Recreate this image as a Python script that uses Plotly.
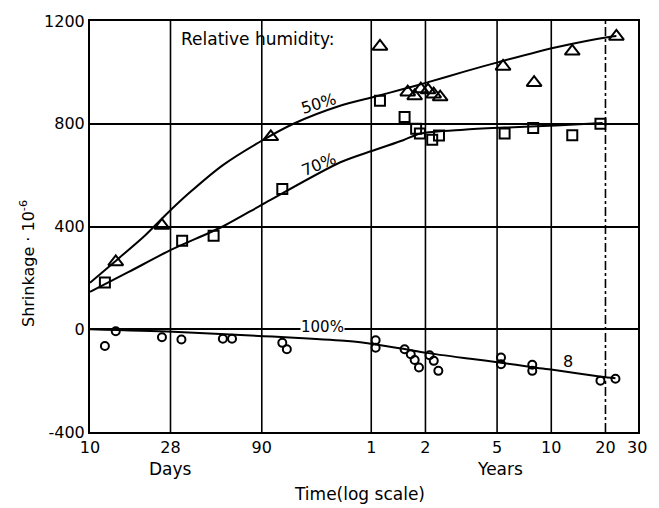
import plotly.graph_objects as go

# Shrinkage (10^-6) of concrete stored at three relative humidities; time in days
rh50_days = [13.9, 25.1, 101, 408, 582, 636, 688, 754, 811, 881, 1970, 2930, 4774, 8395]
rh50_vals = [262, 404, 749, 1101, 923, 908, 935, 931, 915, 904, 1023, 960, 1082, 1140]

rh70_days = [12.1, 32.5, 48.6, 117, 408, 559, 648, 680, 796, 868, 2009, 2896, 4774, 6846]
rh70_vals = [182, 345, 364, 546, 890, 826, 781, 762, 738, 754, 762, 783, 755, 800]

rh100_days = [12.1, 13.9, 25.1, 32.2, 54.7, 61.5, 117, 124, 386, 386, 559, 605, 636, 672,
              769, 812, 861, 1919, 1919, 2862, 2862, 6846, 8295]
rh100_vals = [-65, -8, -31, -40, -37, -37, -53, -78, -43, -72, -78, -97, -120, -149,
              -101, -123, -162, -110, -136, -138, -162, -200, -193]

# Fitted trend curves
fit50_days = [10, 14.1, 20, 26.3, 35.5, 55, 87, 135, 245, 380, 550, 740, 1200, 1860, 3890, 7940, 8395]
fit50_vals = [181, 270, 362, 445, 530, 640, 728, 800, 870, 905, 935, 960, 1003, 1040, 1098, 1140, 1142]

fit70_days = [10, 16.4, 27.6, 55.3, 94, 246, 378, 549, 685, 1191, 2009, 3865, 7040]
fit70_vals = [146, 223, 306, 402, 492, 650, 697, 736, 762, 777, 785, 793, 803]

fit100_days = [10, 28.9, 92, 136, 269, 386, 549, 738, 1297, 1919, 2862, 3722, 6929, 8295]
fit100_vals = [0, -10, -27, -33, -46, -59, -76, -92, -115, -130, -148, -158, -185, -191]

# Axis ticks: days, then years
tick_days = [10, 28, 90, 365, 730, 1825, 3650, 7300, 10950]
tick_text = ["10", "28", "90", "1", "2", "5", "10", "20", "30"]
dashed_grid_day = 7300
y_ticks = [-400, 0, 400, 800, 1200]
y_text = ["-400", "0", "400", "800", "1200"]

FONT = "DejaVu Sans"
INK = "black"

fig = go.Figure()

# Vertical grid lines at the inner time ticks (the 20-year line is dash-dotted)
for d in tick_days[1:-1]:
    fig.add_shape(type="line", xref="x", yref="paper", x0=d, x1=d, y0=0, y1=1,
                  line=dict(color=INK, width=1.6,
                            dash="dashdot" if d == dashed_grid_day else "solid"),
                  layer="below")

for xs, ys in [(fit50_days, fit50_vals), (fit70_days, fit70_vals), (fit100_days, fit100_vals)]:
    fig.add_trace(go.Scatter(
        x=xs, y=ys, mode="lines",
        line=dict(color=INK, width=2, shape="spline", smoothing=0.8),
        hoverinfo="skip", showlegend=False))

fig.add_trace(go.Scatter(
    x=rh50_days, y=rh50_vals, mode="markers", name="50%",
    marker=dict(symbol="triangle-up-open", size=13, color=INK, line=dict(width=2, color=INK)),
    showlegend=False))
fig.add_trace(go.Scatter(
    x=rh70_days, y=rh70_vals, mode="markers", name="70%",
    marker=dict(symbol="square-open", size=10, color=INK, line=dict(width=2, color=INK)),
    showlegend=False))
fig.add_trace(go.Scatter(
    x=rh100_days, y=rh100_vals, mode="markers", name="100%",
    marker=dict(symbol="circle-open", size=8, color=INK, line=dict(width=2, color=INK)),
    showlegend=False))


def text_font(size):
    return dict(family=FONT, size=size, color=INK)


annotations = [
    dict(x=1.494, y=1131, xref="x", yref="y", text="Relative humidity:", showarrow=False,
         xanchor="left", yanchor="middle", font=text_font(17)),
    dict(x=2.27, y=878, xref="x", yref="y", text="50%", showarrow=False,
         textangle=-17, font=text_font(16)),
    dict(x=2.27, y=642, xref="x", yref="y", text="70%", showarrow=False,
         textangle=-22, font=text_font(16)),
    dict(x=2.294, y=8, xref="x", yref="y", text="100%", showarrow=False,
         bgcolor="white", borderpad=0, font=text_font(15)),
    dict(x=3.654, y=-126, xref="x", yref="y", text="8", showarrow=False, font=text_font(16)),
    dict(x=1.447, y=-0.089, xref="x", yref="paper", text="Days", showarrow=False,
         yanchor="middle", font=text_font(17)),
    dict(x=3.28, y=-0.089, xref="x", yref="paper", text="Years", showarrow=False,
         yanchor="middle", font=text_font(17)),
    dict(x=0.492, y=-0.151, xref="paper", yref="paper", text="Time(log scale)", showarrow=False,
         xanchor="center", yanchor="middle", font=text_font(17)),
    dict(x=-0.114, y=0.41, xref="paper", yref="paper", text="Shrinkage · 10<sup>-6</sup>",
         showarrow=False, textangle=-90, xanchor="center", yanchor="middle",
         font=text_font(16)),
]

fig.update_layout(
    width=659, height=508,
    margin=dict(l=90, r=18, t=15, b=76),
    paper_bgcolor="white", plot_bgcolor="white",
    font=dict(family=FONT, color=INK),
    annotations=annotations,
)

fig.update_xaxes(
    type="log", range=[1, 4.044],
    tickvals=tick_days, ticktext=tick_text,
    tickfont=text_font(16),
    showgrid=False,
    showline=True, linecolor=INK, linewidth=2, mirror=True,
    ticks="", zeroline=False,
)
fig.update_yaxes(
    range=[-400, 1200], tickvals=y_ticks, ticktext=y_text,
    tickfont=text_font(16),
    showgrid=True, gridcolor=INK, gridwidth=1.6,
    showline=True, linecolor=INK, linewidth=2, mirror=True,
    ticks="", zeroline=False,
)

fig.write_html("out.html")
